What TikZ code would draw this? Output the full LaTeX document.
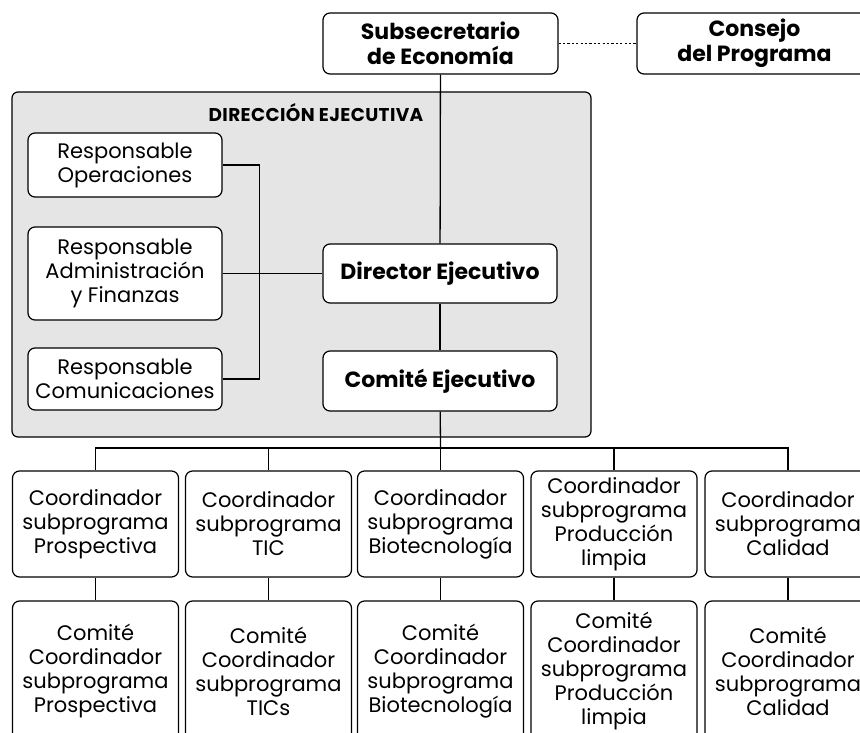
\documentclass[tikz,border=0pt]{standalone}
\usepackage{fontspec}
\setmainfont{Poppins}
\usetikzlibrary{positioning,calc}

\begin{document}
\begin{tikzpicture}[
  x=1pt, y=-1pt,
  line width=1.3pt,
  % rounded white box
  box/.style = {
    draw, rounded corners=7pt,
    line width=1.2pt,
    fill=white,
    align=center,
    inner sep=2pt,
    font=\fontsize{21}{24}\selectfont
  },
  headbox/.style = {box, font=\bfseries\fontsize{22}{25}\selectfont},
  respbox/.style = {box, minimum width=194pt},
  subbox/.style = {box, minimum width=166pt},
  region/.style = {
    draw, rounded corners=6pt,
    line width=1.2pt,
    fill=gray!20,
    minimum width=579pt, minimum height=345pt
  }
]

\useasboundingbox (0,0) rectangle (860,733);
\clip (0,0) rectangle (860,733);

% ---- top ----
\node[headbox, minimum width=235pt, minimum height=61pt] (sub) at (440.5,43.5) {Subsecretario\\de Economía};
\node[headbox, minimum width=235pt, minimum height=61pt] (consejo) at (754.5,43.5) {Consejo\\del Programa};

% ---- direccion ejecutiva ----
\node[region] (direccion) at (301.5,264.5) {};
\node[font=\bfseries\fontsize{18.5}{20}\selectfont\addfontfeature{LetterSpace=2}] (titulo) at (316,113) {DIRECCIÓN EJECUTIVA};

\node[respbox, minimum height=64pt] (ops) at (125,165) {Responsable\\Operaciones};
\node[respbox, minimum height=93pt] (adm) at (125,273.5) {Responsable\\Administración\\y Finanzas};
\node[respbox, minimum height=62pt] (com) at (125,379) {Responsable\\Comunicaciones};

\node[headbox, minimum width=234pt, minimum height=59pt] (director) at (440,273.5) {Director Ejecutivo};
\node[headbox, minimum width=234pt, minimum height=60pt] (comite) at (440,381) {Comité Ejecutivo};

% ---- subprogramas ----
\coordinate (bus) at (440.5,448);
\node[subbox, minimum height=106pt] (c1) at (95.5,524) {Coordinador\\subprograma\\Prospectiva};
\node[subbox, minimum height=106pt] (c2) at (268.5,524) {Coordinador\\subprograma\\TIC};
\node[subbox, minimum height=106pt] (c3) at (440.5,524) {Coordinador\\subprograma\\Biotecnología};
\node[subbox, minimum height=106pt] (c4) at (614,524) {Coordinador\\subprograma\\Producción\\limpia};
\node[subbox, minimum height=106pt] (c5) at (788,524) {Coordinador\\subprograma\\Calidad};

\node[subbox, minimum height=140pt] (k1) at (95.5,671) {Comité\\Coordinador\\subprograma\\Prospectiva};
\node[subbox, minimum height=140pt] (k2) at (268.5,671) {Comité\\Coordinador\\subprograma\\TICs};
\node[subbox, minimum height=140pt] (k3) at (440.5,671) {Comité\\Coordinador\\subprograma\\Biotecnología};
\node[subbox, minimum height=140pt] (k4) at (614,671) {Comité\\Coordinador\\subprograma\\Producción\\limpia};
\node[subbox, minimum height=140pt] (k5) at (788,671) {Comité\\Coordinador\\subprograma\\Calidad};

% ---- lines ----
\draw[line width=1.5pt, dash pattern=on 2.2pt off 2.2pt] (sub) -- (consejo);
\draw (sub) -- (director);
\draw (director) -- (comite);
\draw (adm) -- (director);
\draw (ops.east) -- ++(37,0) |- (com.east);
\draw (comite) -- (bus);
\foreach \i in {1,...,5} {
  \draw (c\i.north) |- (bus);
  \draw (c\i) -- (k\i);
}

\end{tikzpicture}
\end{document}
